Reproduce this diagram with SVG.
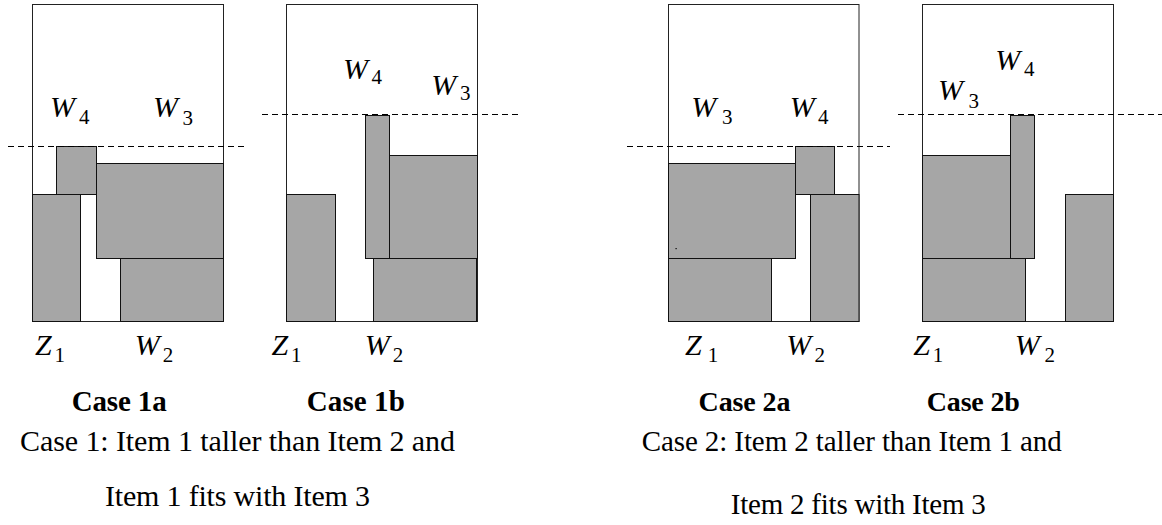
<svg xmlns="http://www.w3.org/2000/svg" width="1162" height="525" viewBox="0 0 1162 525">
<style>
.bin{fill:#fff;stroke:#222;stroke-width:1}
.item{fill:#a6a6a6;stroke:#111;stroke-width:1}
.dash{stroke:#000;stroke-width:1.2;stroke-dasharray:6 4;fill:none}
.v{font-style:italic;font-size:30px;fill:#000}
.s{font-size:21px;fill:#000}
.b{font-weight:bold;fill:#000;text-anchor:middle}
.t{fill:#000;text-anchor:middle}
</style>
<rect width="1162" height="525" fill="#fff"/>
<g font-family="Liberation Serif, DejaVu Serif, serif">
<g id="case1a">
<rect class="bin" x="32.5" y="4.5" width="191" height="317"/>
<rect class="item" x="32.5" y="194.5" width="48" height="127"/>
<rect class="item" x="120.5" y="258.5" width="103" height="63"/>
<rect class="item" x="96.5" y="163.5" width="127" height="95"/>
<rect class="item" x="56.5" y="146.5" width="40" height="48"/>
<text class="v" x="50" y="117">W</text><text class="s" x="79" y="124">4</text>
<text class="v" x="153" y="117">W</text><text class="s" x="182.5" y="125">3</text>
<text class="v" x="35" y="355">Z</text><text class="s" x="54.4" y="361.7">1</text>
<text class="v" x="134.7" y="355">W</text><text class="s" x="162.7" y="361.7">2</text>
<text class="b" x="119.2" y="410.7" font-size="29" textLength="95">Case 1a</text>
</g>

<g id="case1b">
<rect class="bin" x="286.5" y="4.5" width="191" height="317"/>
<rect class="item" x="286.5" y="194.5" width="49" height="127"/>
<rect class="item" x="373.5" y="258.5" width="103" height="63"/>
<rect class="item" x="389.5" y="155.5" width="88" height="103"/>
<rect class="item" x="365.5" y="115.5" width="24" height="143"/>
<text class="v" x="343" y="79">W</text><text class="s" x="371.5" y="83.5">4</text>
<text class="v" x="431.3" y="94.5">W</text><text class="s" x="460" y="99.5">3</text>
<text class="v" x="271.5" y="355">Z</text><text class="s" x="291" y="361.7">1</text>
<text class="v" x="364.7" y="355">W</text><text class="s" x="392.7" y="361.7">2</text>
<text class="b" x="355.8" y="410.7" font-size="29" textLength="98">Case 1b</text>
</g>

<g id="case2a">
<rect class="bin" x="668.5" y="4.5" width="190.5" height="317"/>
<rect class="item" x="668.5" y="258.5" width="103" height="63"/>
<rect class="item" x="810.5" y="194.5" width="48.5" height="127"/>
<rect class="item" x="668.5" y="163.5" width="127" height="95"/>
<rect class="item" x="795.5" y="146.5" width="39" height="48"/>
<rect x="675.5" y="248" width="1.2" height="1.2" fill="#000"/>
<text class="v" x="691.3" y="117.3">W</text><text class="s" x="722" y="124">3</text>
<text class="v" x="789.7" y="117.3">W</text><text class="s" x="818" y="124">4</text>
<text class="v" x="685" y="355">Z</text><text class="s" x="707.7" y="361.7">1</text>
<text class="v" x="786.3" y="355">W</text><text class="s" x="814.4" y="361.7">2</text>
<text class="b" x="744.5" y="410.7" font-size="28" textLength="92">Case 2a</text>
</g>

<g id="case2b">
<rect class="bin" x="922.5" y="4.5" width="191" height="317"/>
<rect class="item" x="922.5" y="258.5" width="103" height="63"/>
<rect class="item" x="1065.5" y="194.5" width="48" height="127"/>
<rect class="item" x="922.5" y="155.5" width="88" height="103"/>
<rect class="item" x="1010.5" y="115.5" width="24" height="143"/>
<text class="v" x="995.3" y="70">W</text><text class="s" x="1024" y="76">4</text>
<text class="v" x="938" y="100">W</text><text class="s" x="968.5" y="108.3">3</text>
<text class="v" x="913.3" y="355">Z</text><text class="s" x="932.7" y="361.7">1</text>
<text class="v" x="1014.7" y="355">W</text><text class="s" x="1044.4" y="361.7">2</text>
<text class="b" x="973.3" y="410.7" font-size="28" textLength="93">Case 2b</text>
</g>

<g id="guides">
<line class="dash" x1="8" y1="146.5" x2="248" y2="146.5"/>
<line class="dash" x1="262" y1="114.5" x2="518" y2="114.5"/>
<line class="dash" x1="627" y1="146.5" x2="890" y2="146.5"/>
<line class="dash" x1="898" y1="114.5" x2="1162" y2="114.5"/>
</g>

<g id="captions">
<text class="t" x="237.5" y="450.7" font-size="30" textLength="435">Case 1: Item 1 taller than Item 2 and</text>
<text class="t" x="237.5" y="506" font-size="30" textLength="265">Item 1 fits with Item 3</text>
<text class="t" x="851.7" y="450.7" font-size="29" textLength="420">Case 2: Item 2 taller than Item 1 and</text>
<text class="t" x="858.3" y="514" font-size="29" textLength="255">Item 2 fits with Item 3</text>
</g>
</g>
</svg>
